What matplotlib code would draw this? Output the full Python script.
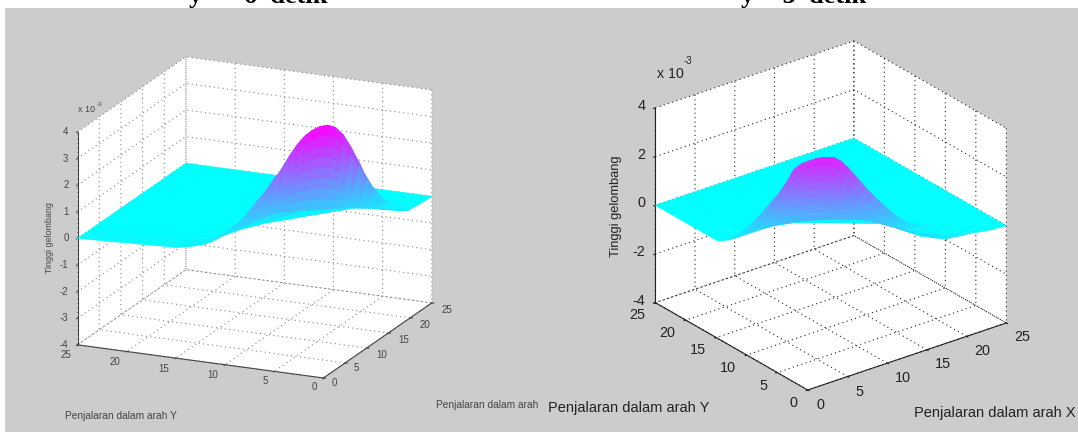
# Two 3D wave surfaces (t = 6 and t = 3) on a grey page
import numpy as np
import matplotlib
matplotlib.use("Agg")
import matplotlib.pyplot as plt
from matplotlib.colors import Normalize
from matplotlib.patches import Rectangle
from mpl_toolkits.mplot3d import proj3d

W, H = 1078, 432
plt.rcParams["font.family"] = ["Liberation Sans", "DejaVu Sans"]

x_ticks = [0, 5, 10, 15, 20, 25]
y_ticks = [0, 5, 10, 15, 20, 25]
z_ticks_left = [-4, -3, -2, -1, 0, 1, 2, 3, 4]
z_ticks_right = [-4, -2, 0, 2, 4]

# y position of every row of the grid
rows_left = [0, 1, 1.5, 2, 2.5, 3, 3.5, 4, 4.5, 5, 5.5, 6, 6.5, 7, 7.5, 8, 8.5, 9, 9.5, 10,
             10.5, 11, 11.5, 12, 12.5, 13, 14, 15, 25]
rows_right = [0, 1, 2, 3, 4, 4.5, 5, 5.5, 6, 6.5, 7, 7.5, 8, 8.5, 9, 9.5, 10, 10.5, 11, 11.5,
              12, 12.5, 13, 13.5, 14, 14.5, 15, 25]

# x of the front edge and of the crest, per row
edge_left = [18.7, 17.4, 16.7, 16.1, 15.4, 14.75, 14.1, 13.4, 12.8, 12.1, 11.45, 10.8, 10.1, 9.5,
             8.8, 8.2, 7.5, 6.85, 6.2, 5.5, 4.9, 4.2, 3.55, 2.9, 2.25, 1.6, 0.25, 0, 0]
crest_left = [19.7, 19.4, 18.7, 18.1, 17.4, 16.75, 16.1, 15.4, 14.8, 14.1, 13.45, 12.8, 12.1, 11.5,
              10.8, 10.2, 9.5, 8.85, 8.2, 7.5, 6.9, 6.2, 5.55, 4.9, 4.25, 3.6, 2.25, 2, 2]
edge_right = [17.3, 16.06, 14.83, 13.59, 12.36, 11.74, 11.12, 10.5, 9.89, 9.27, 8.65, 8.03, 7.41, 6.8,
              6.18, 5.56, 4.94, 4.33, 3.71, 3.09, 2.47, 1.85, 1.24, 0.62, 0, 0, 0, 0]
crest_right = [19.9, 19.06, 17.83, 16.59, 15.36, 14.74, 14.12, 13.5, 12.89, 12.27, 11.65, 11.03, 10.41, 9.8,
               9.18, 8.56, 7.94, 7.33, 6.71, 6.09, 5.47, 4.85, 4.24, 3.62, 3, 3, 3, 3]

# column layout: 9 columns from edge to crest, then offsets behind the crest
front_cols = [0, 0.125, 0.25, 0.375, 0.5, 0.625, 0.75, 0.875, 1]
back_cols = [1, 2, 3.5, 5]

# wave height (x 10^-3), one line per row
z_left = [
    [.17, .16, .15, .14, .13, .12, .10, .09, .08, .06, .04, .01, 0, 0],
    [.30, .28, .26, .24, .22, .21, .19, .17, .15, .12, .07, .02, 0, 0],
    [.38, .35, .32, .29, .26, .22, .19, .16, .13, .10, .06, .02, 0, 0],
    [.44, .44, .43, .43, .42, .42, .41, .41, .40, .31, .18, .06, 0, 0],
    [.50, .55, .60, .65, .70, .75, .80, .85, .90, .70, .41, .14, 0, 0],
    [.56, .67, .78, .89, 1.00, 1.11, 1.22, 1.33, 1.44, 1.12, .65, .22, 0, 0],
    [.63, .82, 1.00, 1.19, 1.38, 1.57, 1.76, 1.94, 2.13, 1.66, .96, .32, 0, 0],
    [.67, .93, 1.19, 1.45, 1.71, 1.96, 2.22, 2.48, 2.74, 2.14, 1.23, .41, 0, 0],
    [.71, 1.03, 1.34, 1.66, 1.98, 2.29, 2.61, 2.92, 3.24, 2.53, 1.46, .49, 0, 0],
    [.74, 1.09, 1.45, 1.80, 2.16, 2.51, 2.86, 3.22, 3.57, 2.78, 1.61, .54, 0, 0],
    [.77, 1.14, 1.51, 1.87, 2.24, 2.61, 2.98, 3.34, 3.71, 2.89, 1.67, .56, 0, 0],
    [.80, 1.16, 1.53, 1.89, 2.25, 2.61, 2.98, 3.34, 3.70, 2.89, 1.67, .56, 0, 0],
    [.83, 1.18, 1.53, 1.87, 2.22, 2.57, 2.92, 3.26, 3.61, 2.82, 1.62, .54, 0, 0],
    [.86, 1.18, 1.50, 1.82, 2.15, 2.47, 2.79, 3.11, 3.43, 2.68, 1.54, .51, 0, 0],
    [.89, 1.17, 1.45, 1.73, 2.02, 2.30, 2.58, 2.86, 3.14, 2.45, 1.41, .47, 0, 0],
    [.92, 1.15, 1.38, 1.61, 1.84, 2.07, 2.30, 2.53, 2.76, 2.15, 1.24, .41, 0, 0],
    [.90, 1.08, 1.26, 1.43, 1.61, 1.79, 1.97, 2.14, 2.32, 1.81, 1.04, .35, 0, 0],
    [.82, .97, 1.11, 1.26, 1.40, 1.55, 1.69, 1.84, 1.98, 1.54, .89, .30, 0, 0],
    [.76, .87, .97, 1.08, 1.19, 1.29, 1.40, 1.50, 1.61, 1.26, .72, .24, 0, 0],
    [.68, .76, .84, .92, 1.00, 1.08, 1.16, 1.24, 1.32, 1.03, .59, .20, 0, 0],
    [.61, .66, .71, .76, .82, .87, .92, .97, 1.02, .80, .46, .15, 0, 0],
    [.55, .57, .59, .60, .62, .64, .66, .67, .69, .54, .31, .10, 0, 0],
    [.50, .50, .50, .50, .50, .51, .51, .51, .51, .40, .23, .08, 0, 0],
    [.32, .32, .32, .32, .32, .32, .32, .32, .32, .23, .14, .05, 0, 0],
    [.22, .22, .22, .22, .22, .22, .22, .22, .22, .14, .08, .03, 0, 0],
    [.18, .18, .18, .18, .18, .18, .18, .18, .18, .10, .05, .02, 0, 0],
    [.20, .20, .20, .20, .20, .20, .20, .20, .20, .12, .06, .02, 0, 0],
    [.16, .16, .16, .16, .16, .16, .16, .16, .16, .10, .05, .02, 0, 0],
    [0, 0, 0, 0, 0, 0, 0, 0, 0, 0, 0, 0, 0, 0],
]
z_right = [
    [.29, .28, .27, .26, .25, .23, .22, .21, .20, .16, .09, .03, 0, 0],
    [.36, .33, .31, .28, .26, .23, .20, .18, .15, .12, .07, .02, 0, 0],
    [.52, .47, .42, .36, .31, .26, .21, .15, .10, .08, .05, .02, 0, 0],
    [.72, .64, .56, .47, .39, .31, .23, .14, .06, .05, .03, .01, 0, 0],
    [.89, .82, .76, .69, .63, .56, .49, .43, .36, .28, .16, .05, 0, 0],
    [.97, .93, .89, .85, .82, .78, .74, .70, .66, .51, .30, .10, 0, 0],
    [1.04, 1.03, 1.02, 1.00, .99, .98, .97, .95, .94, .73, .42, .14, 0, 0],
    [1.07, 1.10, 1.12, 1.15, 1.17, 1.20, 1.22, 1.25, 1.27, .99, .57, .19, 0, 0],
    [1.07, 1.14, 1.21, 1.28, 1.35, 1.42, 1.49, 1.56, 1.63, 1.27, .73, .24, 0, 0],
    [1.06, 1.18, 1.30, 1.42, 1.54, 1.66, 1.78, 1.90, 2.02, 1.58, .91, .30, 0, 0],
    [1.06, 1.23, 1.40, 1.56, 1.73, 1.90, 2.07, 2.23, 2.40, 1.87, 1.08, .36, 0, 0],
    [1.05, 1.27, 1.48, 1.70, 1.91, 2.13, 2.34, 2.56, 2.77, 2.16, 1.25, .42, 0, 0],
    [1.02, 1.28, 1.54, 1.80, 2.06, 2.31, 2.57, 2.83, 3.09, 2.41, 1.39, .46, 0, 0],
    [1.00, 1.28, 1.56, 1.84, 2.13, 2.41, 2.69, 2.97, 3.25, 2.54, 1.46, .49, 0, 0],
    [.97, 1.26, 1.54, 1.83, 2.11, 2.40, 2.68, 2.97, 3.25, 2.54, 1.46, .49, 0, 0],
    [.93, 1.22, 1.50, 1.79, 2.08, 2.36, 2.65, 2.93, 3.22, 2.51, 1.45, .48, 0, 0],
    [.87, 1.15, 1.43, 1.71, 1.99, 2.27, 2.55, 2.83, 3.11, 2.43, 1.40, .47, 0, 0],
    [.81, 1.08, 1.36, 1.63, 1.90, 2.17, 2.45, 2.72, 2.99, 2.33, 1.35, .45, 0, 0],
    [.72, .97, 1.23, 1.48, 1.73, 1.98, 2.24, 2.49, 2.74, 2.14, 1.23, .41, 0, 0],
    [.62, .81, 1.01, 1.20, 1.39, 1.58, 1.78, 1.97, 2.16, 1.68, .97, .32, 0, 0],
    [.50, .65, .80, .95, 1.10, 1.25, 1.40, 1.55, 1.70, 1.33, .77, .26, 0, 0],
    [.39, .51, .63, .74, .86, .98, 1.10, 1.21, 1.33, 1.04, .60, .20, 0, 0],
    [.27, .35, .43, .51, .60, .68, .76, .84, .92, .72, .41, .14, 0, 0],
    [.17, .21, .26, .30, .35, .39, .43, .48, .52, .41, .23, .08, 0, 0],
    [.12, .12, .12, .12, .12, .12, .13, .13, .13, .10, .06, .02, 0, 0],
    [.05, .05, .05, .05, .05, .05, .05, .05, .05, .04, .02, .01, 0, 0],
    [0, 0, 0, 0, 0, 0, 0, 0, 0, 0, 0, 0, 0, 0],
    [0, 0, 0, 0, 0, 0, 0, 0, 0, 0, 0, 0, 0, 0],
]


def px(x, y):
    return x / W, 1 - y / H


def place_axes(fig, ax, near, far, near_px, far_px):
    # scale and move the square axes so two box corners land on given pixels
    fig.canvas.draw()
    points = []
    for corner in (near, far):
        sx, sy, _ = proj3d.proj_transform(*corner, ax.get_proj())
        points.append(ax.transData.transform((sx, sy)))
    bbox = ax.get_window_extent()
    centre = np.array([(bbox.x0 + bbox.x1) / 2, (bbox.y0 + bbox.y1) / 2])
    k = (far_px[0] - near_px[0]) / (points[1][0] - points[0][0])
    target = np.array([near_px[0], H - near_px[1]])
    new_centre = target - k * (points[0] - centre)
    size = bbox.width * k
    ax.set_position([(new_centre[0] - size / 2) / W, (new_centre[1] - size / 2) / H, size / W, size / H])


def tick_label(ax, point, text, offset, size, color, ha="center"):
    # offset is in pixels, x to the right, y downwards
    sx, sy, _ = proj3d.proj_transform(*point, ax.get_proj())
    ax.annotate(text, xy=(sx, sy), xytext=(offset[0] * 0.72, -offset[1] * 0.72),
                textcoords="offset points", ha=ha, va="center", fontsize=size,
                color=color, annotation_clip=False)


def draw_panel(fig, rows, edge, crest, z, z_ticks, azim, elev, height, near_px, far_px,
               color, grid_color, tick_size, offsets):
    ax = fig.add_axes([0.1, 0.1, 0.4, 0.4 * W / H], projection="3d")
    ax.set_proj_type("ortho")
    ax.set_facecolor("none")
    ax.view_init(elev=elev, azim=azim)
    ax.set_box_aspect((1, 1, height))

    xs = []
    for e, c in zip(edge, crest):
        line = [e + f * (c - e) for f in front_cols] + [c + b for b in back_cols] + [25]
        xs.append(line)
    X = np.array(xs)
    Y = np.array(rows, dtype=float)[:, None] * np.ones(X.shape[1])
    Z = np.array(z)

    surf = ax.plot_surface(X, Y, Z, cmap="cool", norm=Normalize(0, 3.71), rstride=1, cstride=1,
                           linewidth=0.4, antialiased=True)
    surf.set_edgecolor("face")

    ax.set_xlim(0, 25)
    ax.set_ylim(0, 25)
    ax.set_zlim(-4, 4)
    ax.set_xticks(x_ticks)
    ax.set_yticks(y_ticks)
    ax.set_zticks(z_ticks)
    ax.set_xticklabels([])
    ax.set_yticklabels([])
    ax.set_zticklabels([])
    ax.tick_params(colors=color)
    for axis in (ax.xaxis, ax.yaxis, ax.zaxis):
        axis.set_pane_color((1, 1, 1, 1))
        axis.pane.set_edgecolor("none")
        axis.line.set_color(color)
        axis.line.set_linewidth(0.8)
        axis._axinfo["grid"].update(color=grid_color, linestyle=(0, (1, 3)), linewidth=0.8)
        axis._axinfo["tick"].update(inward_factor=0.1, outward_factor=0.0)
    place_axes(fig, ax, (0, 0, -4), (0, 25, -4), near_px, far_px)

    for v in x_ticks:
        off = offsets["x1"] if v < 10 else offsets["x2"]
        tick_label(ax, (v, 0, -4), str(v), off, tick_size, color)
    for v in y_ticks:
        off = offsets["y1"] if v < 10 else offsets["y2"]
        tick_label(ax, (0, v, -4), str(v), off, tick_size, color)
    for v in z_ticks:
        tick_label(ax, (0, 25, v), str(v), offsets["z"], tick_size, color, ha="right")
    return ax


fig = plt.figure(figsize=(W / 100, H / 100), dpi=100, facecolor="white")
fig.add_artist(Rectangle((5 / W, 0), 1 - 5 / W, 1 - 8 / H, transform=fig.transFigure,
                         facecolor="#cccccc", edgecolor="none", zorder=-1))

# titles are cut off in the reference as well
for x, label in [(189, "y  =  6  detik"), (741, "y = 3  detik")]:
    fig.text(*px(x, 3), label, family="Liberation Serif", weight="bold", fontsize=19,
             color="black", ha="left", va="baseline", zorder=-2)

draw_panel(fig, rows_left, edge_left, crest_left, z_left, z_ticks_left,
           azim=-156.2, elev=17.8, height=0.832, near_px=(323.4, 378), far_px=(77.5, 345),
           color="#444444", grid_color="#888888", tick_size=7,
           offsets={"x1": (11, 5), "x2": (15, 7), "y1": (-9, 9.5), "y2": (-12, 10.5), "z": (-9, 0)})
draw_panel(fig, rows_right, edge_right, crest_right, z_right, z_ticks_right,
           azim=-127.5, elev=26.1, height=0.866, near_px=(807.7, 390), far_px=(655.3, 302),
           color="#222222", grid_color="#222222", tick_size=10.4,
           offsets={"x1": (12.5, 15), "x2": (16, 14.5), "y1": (-14, 13.5), "y2": (-18.5, 12.5), "z": (-10, -2)})

# left labels
fig.text(*px(65, 416), "Penjalaran dalam arah Y", fontsize=7.3, color="#444444", va="center")
fig.text(*px(436, 405), "Penjalaran dalam arah", fontsize=7.3, color="#444444", va="center")
fig.text(*px(49, 238), "Tinggi gelombang", fontsize=6.4, color="#444444", rotation=90,
         ha="center", va="center")
fig.text(*px(78, 109), "x 10", fontsize=6.5, color="#444444", va="center")
fig.text(*px(97, 105), "-3", fontsize=4.5, color="#444444", va="center")

# right labels
fig.text(*px(548, 408), "Penjalaran dalam arah Y", fontsize=10.5, color="#222222", va="center")
fig.text(*px(914, 413), "Penjalaran dalam arah X", fontsize=10.5, color="#222222", va="center")
fig.text(*px(616, 206), "Tinggi gelombang", fontsize=9.3, color="#222222", rotation=90,
         ha="center", va="center")
fig.text(*px(657, 74), "x 10", fontsize=10.2, color="#222222", va="center")
fig.text(*px(684, 61), "-3", fontsize=7, color="#222222", va="center")

fig.savefig("out.png", dpi=100)
